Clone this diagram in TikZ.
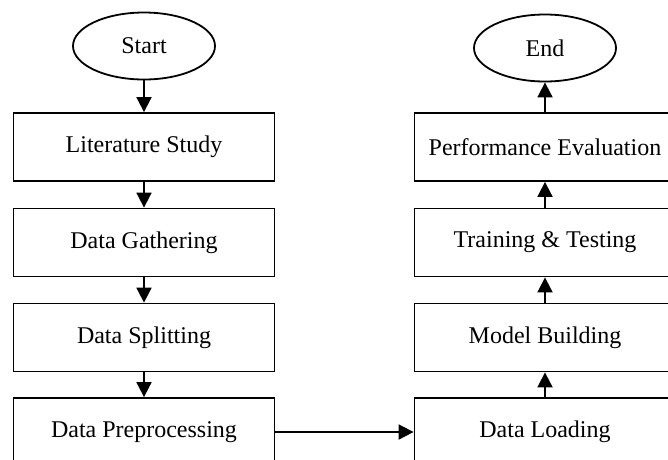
\documentclass[tikz,border=0pt]{standalone}
\usepackage{fontspec}
\setmainfont{Liberation Serif}
\usetikzlibrary{shapes.geometric,arrows.meta}
\begin{document}
\begin{tikzpicture}[x=1pt,y=-1pt,
    stepbox/.style={draw,line width=1.8pt,minimum width=261pt,minimum height=68pt,
      font=\fontsize{24}{28}\selectfont},
    term/.style={draw,ellipse,line width=1.8pt,minimum width=142pt,minimum height=67pt,
      inner sep=0pt,font=\fontsize{24}{28}\selectfont},
    flow/.style={line width=1.8pt,-{Triangle[width=15pt,length=15pt]}}]
        \useasboundingbox (0,0) rectangle (668,459);
        \clip (0,0) rectangle (668,459);
        % left column
        \node[term]    (start) at (144, 46)    {Start};
        \node[stepbox] (lit)   at (144, 147)   {Literature Study};
        \node[stepbox] (gath)  at (144, 242.5) {Data Gathering};
        \node[stepbox] (split) at (144, 337.5) {Data Splitting};
        \node[stepbox] (prep)  at (144, 432)   {Data Preprocessing};
        % right column
        \node[stepbox] (load)  at (545, 432)   {Data Loading};
        \node[stepbox] (model) at (545, 337.5) {Model Building};
        \node[stepbox] (train) at (545, 242.5) {Training \& Testing};
        \node[stepbox] (perf)  at (545, 147)   {Performance Evaluation};
        \node[term]    (end)   at (545, 48)    {End};
        \draw[flow] (start) -- (lit);
        \draw[flow] (lit) -- (gath);
        \draw[flow] (gath) -- (split);
        \draw[flow] (split) -- (prep);
        \draw[flow] (prep) -- (load);
        \draw[flow] (load) -- (model);
        \draw[flow] (model) -- (train);
        \draw[flow] (train) -- (perf);
        \draw[flow] (perf) -- (end);
      \end{tikzpicture}
\end{document}
